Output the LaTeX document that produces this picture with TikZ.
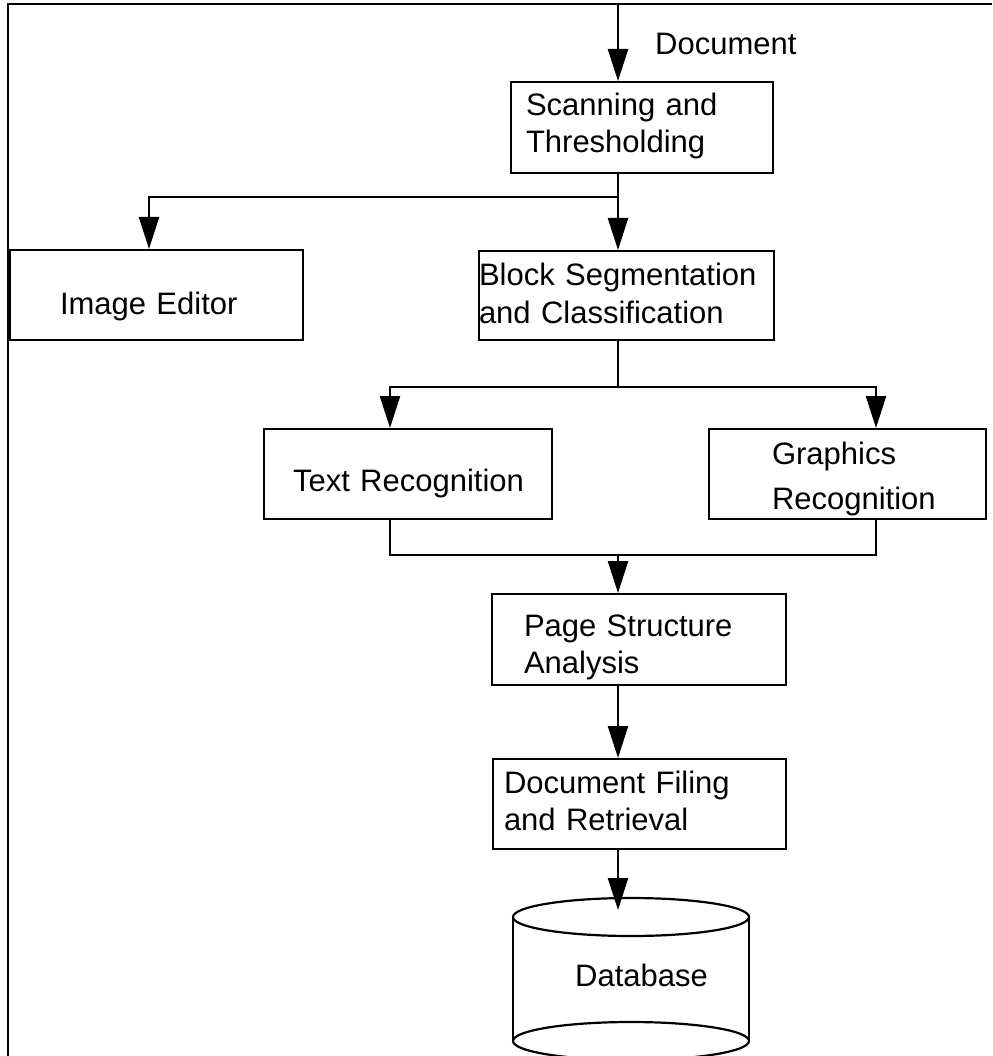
\documentclass[tikz,border=0pt]{standalone}
\usepackage{fontspec}
\setmainfont{Liberation Sans}
\usetikzlibrary{arrows.meta}
\begin{document}
\begin{tikzpicture}[x=1pt,y=-1pt,
  box/.style={draw, line width=2pt, anchor=north west, inner xsep=0pt, inner ysep=0pt,
    align=left, font=\fontsize{31}{37}\selectfont},
  lbl/.style={inner sep=0pt, anchor=base west, font=\fontsize{31}{37}\selectfont},
  conn/.style={line width=2.4pt},
  arr/.style={conn, -{Triangle[length=32pt,width=20pt]}},
  frame/.style={line width=2.5pt},
  drum/.style={line width=2.2pt}]
\useasboundingbox (0,0) rectangle (992,1056);
% frame
\draw[frame] (992,4) -- (8,4) -- (8,1056);
% boxes
\node[box, text width=262pt, text height=34pt, text depth=57pt] (scan) at (510,81)
  {\hspace*{15pt}Scanning and\\\hspace*{15pt}Thresholding};
\node[box, text width=293pt, text height=64pt, text depth=26pt] (ied) at (9,249)
  {\hspace*{50pt}Image Editor};
\node[box, text width=295pt, text height=35pt, text depth=54pt] (blk) at (478,250)
  {Block Segmentation\\and Classification};
\node[box, text width=288pt, text height=62pt, text depth=28pt] (txt) at (263,428)
  {\hspace*{29pt}Text Recognition};
\node[box, text width=277pt, text height=35pt, text depth=55pt,
  font=\fontsize{31}{45}\selectfont] (gfx) at (708,428)
  {\hspace*{63pt}Graphics\\\hspace*{63pt}Recognition};
\node[box, text width=294pt, text height=42pt, text depth=49pt] (pg) at (491,593)
  {\hspace*{32pt}Page Structure\\\hspace*{32pt}Analysis};
\node[box, text width=293pt, text height=34pt, text depth=56pt] (df) at (492,758)
  {\hspace*{11pt}Document Filing\\\hspace*{11pt}and Retrieval};
% labels
\node[lbl] (doclbl) at (655,55) {Document};
% database drum
\draw[drum] (631,917) ellipse [x radius=118, y radius=19];
\draw[drum] (631,1041) ellipse [x radius=118, y radius=19];
\draw[drum] (513,917) -- (513,1041);
\draw[drum] (749,917) -- (749,1041);
\node[lbl] (db) at (575,986) {Database};
\coordinate (dbtop) at (618,910);
% connectors
\coordinate (in) at (618,4);
\coordinate (sp) at (618,0);
\coordinate (j1) at (618,197);
\coordinate (j2) at (618,387);
\coordinate (j3) at (618,555);
\draw[arr] (in) -- (sp |- scan.north);
\draw[conn] (sp |- scan.south) -- (j1);
\draw[arr] (j1) -| ([xshift=-7.5pt]ied.north);
\draw[arr] (j1) -- (sp |- blk.north);
\draw[conn] (sp |- blk.south) -- (j2);
\draw[arr] (j2) -| ([xshift=-18pt]txt.north);
\draw[arr] (j2) -| ([xshift=28.5pt]gfx.north);
\draw[conn] ([xshift=-18pt]txt.south) |- (j3);
\draw[conn] ([xshift=28.5pt]gfx.south) |- (j3);
\draw[arr] (j3) -- (sp |- pg.north);
\draw[arr] (sp |- pg.south) -- (sp |- df.north);
\draw[arr] (sp |- df.south) -- (dbtop);
\end{tikzpicture}
\end{document}
